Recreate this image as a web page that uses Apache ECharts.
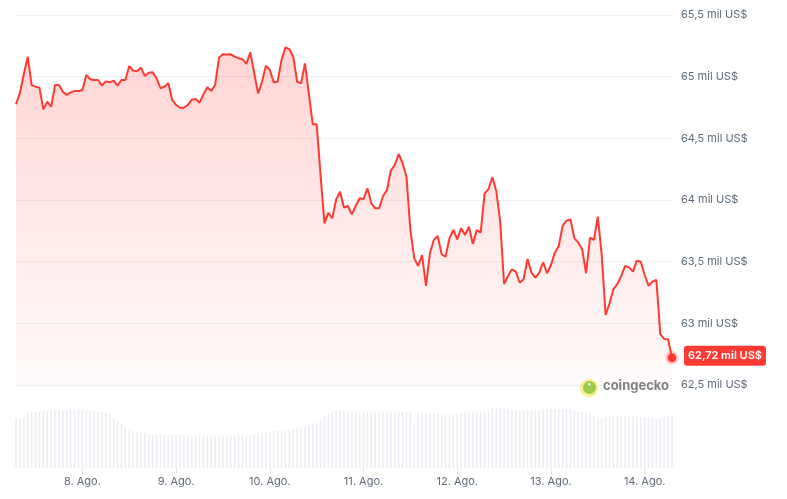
<!DOCTYPE html>
<html>
<head>
<meta charset="utf-8">
<script src="https://cdn.jsdelivr.net/npm/echarts@6/dist/echarts.min.js"></script>
<style>
html,body{margin:0;padding:0;background:#fff;}
#chart{width:787px;height:499px;}
</style>
</head>
<body>
<div id="chart"></div>
<script>
// Hourly series starting 7 Aug 07:00, ending 14 Aug 07:00
var startDay = 7;
var startHour = 7;
var monthLabel = 'Ago.';

// Price in thousands of US$ (mil US$)
var prices = [
64.776,64.868,65.02,65.162,64.932,64.919,64.911,64.735,64.797,64.756,
64.932,64.932,64.878,64.851,64.873,64.884,64.884,64.89,65.014,64.979,
64.973,64.973,64.927,64.962,64.954,64.967,64.927,64.973,64.973,65.086,
65.048,65.046,65.073,65.005,65.032,65.035,64.987,64.906,64.919,64.946,
64.811,64.770,64.748,64.748,64.770,64.813,64.819,64.789,64.855,64.914,
64.884,64.935,65.155,65.181,65.18,65.181,65.162,65.15,65.141,65.103,
65.198,65.03,64.865,64.959,65.089,65.054,64.954,64.959,65.135,65.238,
65.224,65.162,64.959,64.946,65.108,64.86,64.614,64.614,64.2,63.811,
63.897,63.852,64.006,64.067,63.938,63.951,63.884,63.951,64.014,64.006,
64.095,63.973,63.933,63.933,64.032,64.081,64.238,64.284,64.373,64.298,
64.189,63.757,63.527,63.465,63.554,63.303,63.568,63.676,63.708,63.560,
63.540,63.689,63.757,63.681,63.770,63.716,63.783,63.643,63.757,63.735,
64.051,64.089,64.184,64.073,63.824,63.319,63.384,63.438,63.419,63.329,
63.357,63.522,63.411,63.370,63.411,63.495,63.406,63.473,63.573,63.627,
63.792,63.832,63.843,63.689,63.654,63.600,63.406,63.694,63.676,63.865,
63.554,63.068,63.162,63.276,63.319,63.384,63.465,63.454,63.419,63.508,
63.500,63.392,63.305,63.338,63.351,62.913,62.873,62.871,62.72
];

// 24h volume (billions US$)
var volumes = [
30.0,30.0,30.6,33.0,33.6,33.6,33.6,34.2,34.2,34.8,
34.8,34.8,34.8,34.8,34.8,34.8,34.8,34.8,34.8,34.5,
34.2,33.9,33.6,33.0,31.8,30.0,28.2,26.4,24.6,23.1,
22.2,21.6,21.0,20.7,20.1,19.8,19.8,19.8,19.8,19.8,
19.8,19.8,19.8,19.5,19.5,19.5,19.5,19.5,19.5,19.5,
19.5,19.5,19.5,19.5,19.5,19.5,19.5,19.5,19.5,19.5,
19.8,20.4,21.0,21.3,21.6,21.9,22.2,22.5,22.8,22.8,
22.8,23.1,23.7,24.3,24.9,25.8,26.7,27.9,29.4,31.2,
33.0,34.2,34.8,34.8,34.5,34.2,33.6,33.3,33.3,33.3,
33.3,33.3,33.3,33.3,33.3,33.3,33.3,33.3,33.3,33.6,
33.6,33.6,27.0,33.6,32.4,32.4,32.4,32.4,32.4,32.4,
32.4,32.4,32.4,32.4,33.3,33.3,33.3,33.3,33.3,33.3,
33.3,34.2,36.0,36.3,36.3,36.0,35.4,34.8,34.8,34.8,
34.8,34.8,34.8,34.8,34.8,35.4,35.4,35.4,35.4,35.4,
35.4,35.4,35.4,34.2,33.9,33.6,33.6,32.4,31.2,30.3,
29.7,30.6,31.2,31.2,31.2,31.2,31.2,31.2,31.2,30.6,
30.3,30.3,30.3,30.3,29.1,30.0,30.6,31.2,31.2
];

var yTicks = {min: 62.5, max: 65.5, interval: 0.5};
var lastPriceLabel = '62,72 mil US$';

var categories = [];
for (var i = 0; i < prices.length; i++) {
  var t = startHour + i;
  var d = startDay + Math.floor(t / 24);
  var hr = t % 24;
  categories.push(d + '|' + hr);
}
function isMidnight(idx, val) { return String(val).split('|')[1] === '0'; }

var lastIdx = prices.length - 1;
var chart = echarts.init(document.getElementById('chart'), null, {renderer: 'canvas'});
var FONT = 'Inter, "Noto Sans", sans-serif';

chart.setOption({
  animation: false,
  grid: [
    {left: 16, right: 115, top: 15, bottom: 114, containLabel: false},
    {left: 16, right: 115, top: 380, bottom: 31, containLabel: false}
  ],
  xAxis: [
    {type: 'category', gridIndex: 0, data: categories, boundaryGap: false,
     axisLine: {show: false}, axisTick: {show: false}, axisLabel: {show: false}, splitLine: {show: false}},
    {type: 'category', gridIndex: 1, data: categories, boundaryGap: false,
     axisLine: {show: false},
     axisTick: {show: true, interval: isMidnight, length: 6, lineStyle: {color: '#e5e7eb'}},
     axisLabel: {show: true, interval: isMidnight, color: '#5f6b7a', fontSize: 11, fontFamily: FONT, margin: 8,
       formatter: function (v) { return v.split('|')[0] + '. ' + monthLabel; }},
     splitLine: {show: false}}
  ],
  yAxis: [
    {type: 'value', gridIndex: 0, position: 'right', min: yTicks.min, max: yTicks.max, interval: yTicks.interval,
     axisLine: {show: false}, axisTick: {show: false},
     axisLabel: {color: '#5f6b7a', fontSize: 11, fontFamily: FONT, margin: 9,
       formatter: function (v) { return String(+v.toFixed(2)).replace('.', ',') + ' mil US$'; }},
     splitLine: {show: true, lineStyle: {color: '#f0f1f3', width: 1}}},
    {type: 'value', gridIndex: 1, min: 0, max: 52.8, show: false}
  ],
  graphic: [
    {type: 'circle', left: 580, top: 379, shape: {r: 9}, style: {fill: '#f6e97a', opacity: 0.85}, z: 50},
    {type: 'circle', left: 583, top: 381, shape: {r: 6.5}, style: {fill: '#8bc53f', opacity: 0.85}, z: 51},
    {type: 'circle', left: 588, top: 383, shape: {r: 1.3}, style: {fill: '#ffffff'}, z: 52},
    {type: 'text', left: 603, top: 380, style: {text: 'coingecko', fill: '#6b6b6b', font: 'bold 13px ' + FONT, opacity: 0.85}, z: 50}
  ],
  series: [
    {type: 'bar', xAxisIndex: 1, yAxisIndex: 1, data: volumes, barWidth: 1.6,
     itemStyle: {color: '#eceef3'}, silent: true},
    {type: 'line', xAxisIndex: 0, yAxisIndex: 0, data: prices, showSymbol: false, smooth: false,
     lineStyle: {color: '#ff3a33', width: 2},
     areaStyle: {color: new echarts.graphic.LinearGradient(0, 0, 0, 1, [
       {offset: 0, color: 'rgba(255,58,51,0.30)'},
       {offset: 1, color: 'rgba(255,58,51,0.03)'}
     ])}, z: 3},
    {type: 'scatter', xAxisIndex: 0, yAxisIndex: 0,
     data: [[lastIdx, prices[lastIdx]]], symbolSize: 9,
     itemStyle: {color: '#ff3a33', opacity: 1, borderColor: 'rgba(255,58,51,0.22)', borderWidth: 5},
     label: {show: true, position: 'right', distance: 5, offset: [0, -2], formatter: lastPriceLabel,
       color: '#fff', fontWeight: 600, fontSize: 11, fontFamily: FONT,
       backgroundColor: '#ff3a33', borderRadius: 3, padding: [5, 4, 4, 4]}, z: 10}
  ]
});
</script>
</body>
</html>
